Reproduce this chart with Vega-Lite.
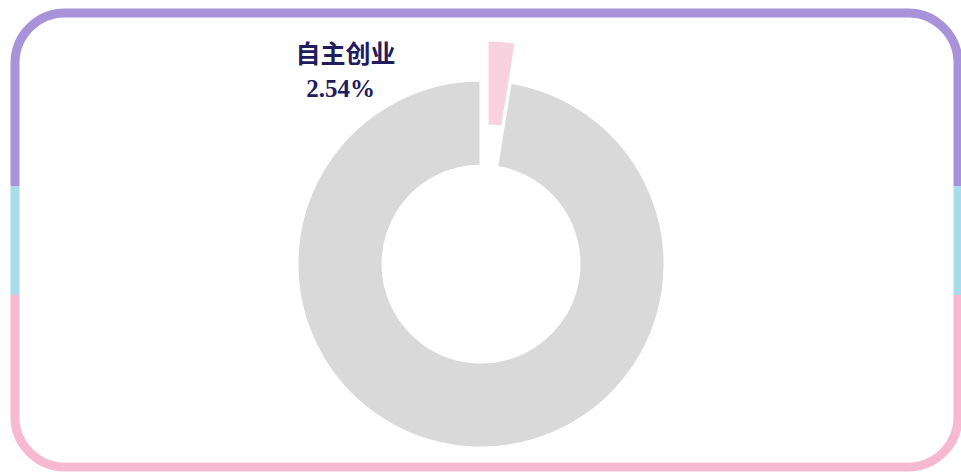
{
  "$schema": "https://vega.github.io/schema/vega-lite/v6.json",
  "width": 961,
  "height": 472,
  "autosize": {"type": "fit", "contains": "padding"},
  "padding": {"left": 15, "top": 13, "right": 3, "bottom": 5},
  "background": "#ffffff",
  "view": {
    "cornerRadius": 50,
    "strokeWidth": 9,
    "fill": "#ffffff",
    "stroke": {
      "gradient": "linear",
      "x1": 0, "y1": 0, "x2": 0, "y2": 1,
      "stops": [
        {"offset": 0, "color": "#a893da"},
        {"offset": 0.38, "color": "#a893da"},
        {"offset": 0.381, "color": "#a9dcea"},
        {"offset": 0.62, "color": "#a9dcea"},
        {"offset": 0.621, "color": "#f6b9cf"},
        {"offset": 1, "color": "#f6b9cf"}
      ]
    }
  },
  "data": {
    "values": [
      {"cat": "自主创业", "share": 0.0254, "ord": 1},
      {"cat": "其他", "share": 0.9746, "ord": 2}
    ]
  },
  "layer": [
    {
      "mark": {"type": "arc", "outerRadius": 184, "innerRadius": 98, "stroke": "#ffffff", "strokeWidth": 3, "xOffset": -5.5, "yOffset": 24},
      "encoding": {
        "theta": {"field": "share", "type": "quantitative", "stack": true},
        "order": {"field": "ord", "type": "quantitative"},
        "color": {"field": "cat", "type": "nominal", "scale": {"domain": ["自主创业", "其他"], "range": ["#f9d2e0", "#d9d9d9"]}, "legend": null},
        "opacity": {"condition": {"test": "datum.cat === '自主创业'", "value": 0}, "value": 1}
      }
    },
    {
      "mark": {"type": "arc", "outerRadius": 184, "innerRadius": 98, "stroke": "#ffffff", "strokeWidth": 3, "xOffset": 0.5, "yOffset": -16},
      "encoding": {
        "theta": {"field": "share", "type": "quantitative", "stack": true},
        "order": {"field": "ord", "type": "quantitative"},
        "color": {"field": "cat", "type": "nominal", "scale": {"domain": ["自主创业", "其他"], "range": ["#f9d2e0", "#d9d9d9"]}, "legend": null},
        "opacity": {"condition": {"test": "datum.cat === '自主创业'", "value": 1}, "value": 0}
      }
    },
    {
      "transform": [{"filter": "datum.cat === '自主创业'"}],
      "mark": {"type": "text", "font": "Liberation Serif, Noto Sans CJK SC", "fontWeight": "bold", "fontSize": 25, "color": "#211c5e", "align": "center", "baseline": "middle", "dx": -141, "dy": -185},
      "encoding": {
        "text": {"field": "cat", "type": "nominal"}
      }
    },
    {
      "transform": [{"filter": "datum.cat === '自主创业'"}],
      "mark": {"type": "text", "font": "Liberation Serif", "fontWeight": "bold", "fontSize": 25, "color": "#211c5e", "align": "center", "baseline": "middle", "dx": -146, "dy": -151},
      "encoding": {
        "text": {"field": "share", "type": "quantitative", "format": ".2%"}
      }
    }
  ]
}
